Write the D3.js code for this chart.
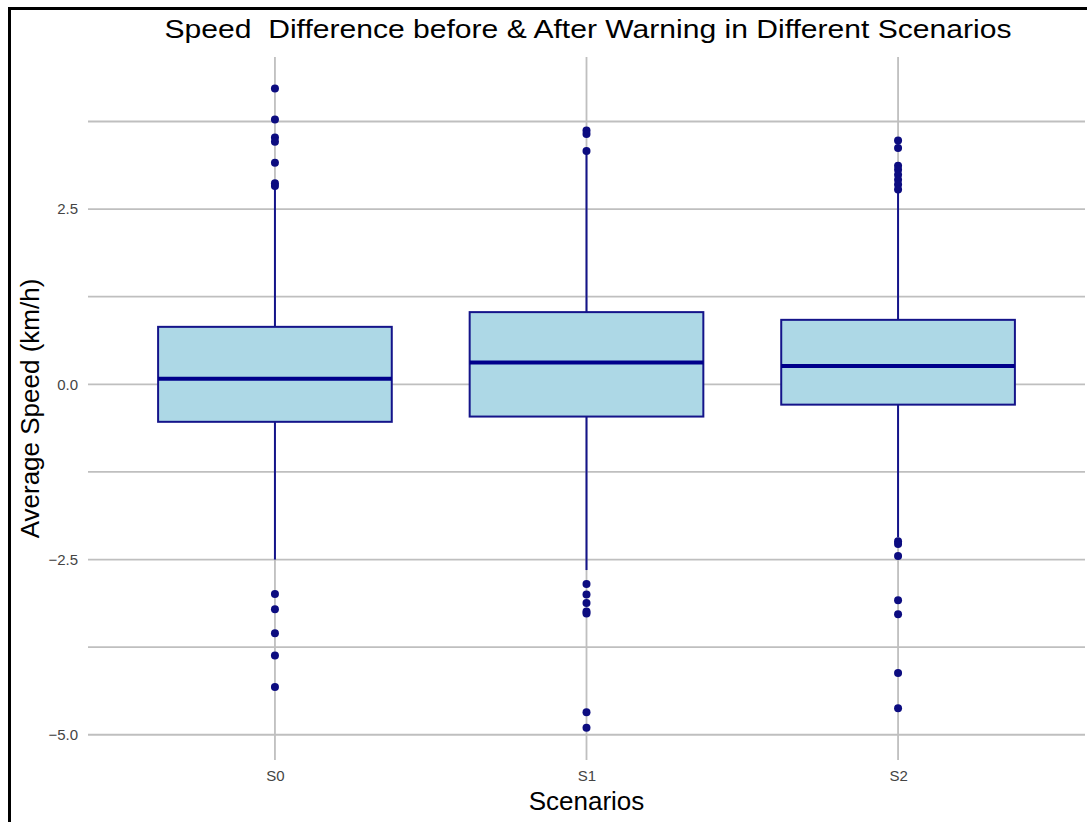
<!DOCTYPE html>
<html>
<head>
<meta charset="utf-8">
<script src="https://cdn.jsdelivr.net/npm/d3@7"></script>
<style>
  body { margin: 0; background: #fff; }
  svg { font-family: "Liberation Sans", Arial, sans-serif; }
</style>
</head>
<body>
<div id="vis"></div>
<script>
const FRAME_WIDTH = 1087;
const FRAME_HEIGHT = 822;
const MARGINS = {left: 88, right: 2, top: 57, bottom: 62};

// box plot summaries
const scenarios = ["S0", "S1", "S2"];
const q1 = [-0.535, -0.46, -0.29];
const medians = [0.08, 0.31, 0.26];
const q3 = [0.82, 1.03, 0.92];
const whiskerLow = [-2.50, -2.65, -2.18];
const whiskerHigh = [2.80, 3.30, 2.75];
const outliersS0 = [4.22, 3.78, 3.52, 3.46, 3.16, 2.87, 2.83, -2.99, -3.21, -3.55, -3.87, -4.32];
const outliersS1 = [3.62, 3.57, 3.33, -2.85, -3.0, -3.12, -3.24, -3.27, -4.68, -4.90];
const outliersS2 = [3.48, 3.37, 3.12, 3.06, 2.99, 2.92, 2.85, 2.78,
                    -2.24, -2.28, -2.45, -3.08, -3.28, -4.12, -4.62];
const yTicks = [-5.0, -2.5, 0.0, 2.5];
const yMinor = [-3.75, -1.25, 1.25, 3.75];

const outliers = [outliersS0, outliersS1, outliersS2];

const VIS_WIDTH = FRAME_WIDTH - MARGINS.left - MARGINS.right;
const VIS_HEIGHT = FRAME_HEIGHT - MARGINS.top - MARGINS.bottom;

const FRAME = d3.select("#vis")
  .append("svg")
    .attr("width", FRAME_WIDTH)
    .attr("height", FRAME_HEIGHT);

// outer black frame (left and top visible)
FRAME.append("path")
    .attr("d", "M9.5," + FRAME_HEIGHT + " L9.5,8.5 L" + FRAME_WIDTH + ",8.5")
    .attr("fill", "none")
    .attr("stroke", "#000")
    .attr("stroke-width", 3);

const X_SCALE = d3.scalePoint()
    .domain(scenarios)
    .range([MARGINS.left, MARGINS.left + VIS_WIDTH])
    .padding(0.6);

const Y_SCALE = d3.scaleLinear()
    .domain([-5.36, 4.67])
    .range([MARGINS.top + VIS_HEIGHT, MARGINS.top]);

const boxW = X_SCALE.step() * 0.75;

// gridlines
const grid = FRAME.append("g");
grid.selectAll(".hmajor")
  .data(yTicks.concat(yMinor))
  .enter()
  .append("line")
    .attr("x1", MARGINS.left)
    .attr("x2", MARGINS.left + VIS_WIDTH)
    .attr("y1", (d) => Y_SCALE(d))
    .attr("y2", (d) => Y_SCALE(d))
    .attr("stroke", "#bfbfbf")
    .attr("stroke-width", 1.8);

grid.selectAll(".vmajor")
  .data(scenarios)
  .enter()
  .append("line")
    .attr("x1", (d) => X_SCALE(d))
    .attr("x2", (d) => X_SCALE(d))
    .attr("y1", MARGINS.top)
    .attr("y2", MARGINS.top + VIS_HEIGHT)
    .attr("stroke", "#bfbfbf")
    .attr("stroke-width", 1.8);

// y axis labels
FRAME.append("g")
    .attr("transform", "translate(" + (MARGINS.left - 10) + ",0)")
    .call(d3.axisLeft(Y_SCALE).tickValues(yTicks).tickSize(0).tickPadding(0).tickFormat(d3.format(".1f")))
    .call((g) => g.select(".domain").remove())
    .selectAll("text")
      .attr("font-size", "15px")
      .attr("fill", "#444")
      .attr("font-family", "Liberation Sans, Arial, sans-serif");

// x axis labels
FRAME.append("g")
    .attr("transform", "translate(0," + (MARGINS.top + VIS_HEIGHT + 10) + ")")
    .call(d3.axisBottom(X_SCALE).tickSize(0).tickPadding(0))
    .call((g) => g.select(".domain").remove())
    .selectAll("text")
      .attr("font-size", "15px")
      .attr("fill", "#444")
      .attr("font-family", "Liberation Sans, Arial, sans-serif");

// boxes
const boxes = FRAME.selectAll(".box")
  .data(scenarios)
  .enter()
  .append("g");

boxes.append("line")
    .attr("x1", (d) => X_SCALE(d))
    .attr("x2", (d) => X_SCALE(d))
    .attr("y1", (d, i) => Y_SCALE(whiskerHigh[i]))
    .attr("y2", (d, i) => Y_SCALE(q3[i]))
    .attr("stroke", "#14148a")
    .attr("stroke-width", 2);

boxes.append("line")
    .attr("x1", (d) => X_SCALE(d))
    .attr("x2", (d) => X_SCALE(d))
    .attr("y1", (d, i) => Y_SCALE(q1[i]))
    .attr("y2", (d, i) => Y_SCALE(whiskerLow[i]))
    .attr("stroke", "#14148a")
    .attr("stroke-width", 2);

boxes.append("rect")
    .attr("x", (d) => X_SCALE(d) - boxW / 2)
    .attr("width", boxW)
    .attr("y", (d, i) => Y_SCALE(q3[i]))
    .attr("height", (d, i) => Y_SCALE(q1[i]) - Y_SCALE(q3[i]))
    .attr("fill", "#add8e6")
    .attr("stroke", "#14148a")
    .attr("stroke-width", 2);

boxes.append("line")
    .attr("x1", (d) => X_SCALE(d) - boxW / 2)
    .attr("x2", (d) => X_SCALE(d) + boxW / 2)
    .attr("y1", (d, i) => Y_SCALE(medians[i]))
    .attr("y2", (d, i) => Y_SCALE(medians[i]))
    .attr("stroke", "#00008b")
    .attr("stroke-width", 4);

// outlier points
boxes.each(function (d, i) {
  d3.select(this).selectAll("circle")
    .data(outliers[i])
    .enter()
    .append("circle")
      .attr("cx", X_SCALE(d))
      .attr("cy", (v) => Y_SCALE(v))
      .attr("r", 4)
      .attr("fill", "#0c0c80");
});

// titles
FRAME.append("text")
    .attr("x", 588)
    .attr("y", 38)
    .attr("text-anchor", "middle")
    .attr("font-size", "26px")
    .attr("fill", "#000")
    .attr("textLength", 847)
    .attr("lengthAdjust", "spacingAndGlyphs")
    .style("white-space", "pre")
    .text("Speed  Difference before & After Warning in Different Scenarios");

FRAME.append("text")
    .attr("x", MARGINS.left + VIS_WIDTH / 2)
    .attr("y", 810)
    .attr("text-anchor", "middle")
    .attr("font-size", "26px")
    .attr("fill", "#000")
    .text("Scenarios");

FRAME.append("text")
    .attr("transform", "translate(39," + (MARGINS.top + VIS_HEIGHT / 2) + ") rotate(-90)")
    .attr("text-anchor", "middle")
    .attr("font-size", "26px")
    .attr("fill", "#000")
    .text("Average Speed (km/h)");
</script>
</body>
</html>
